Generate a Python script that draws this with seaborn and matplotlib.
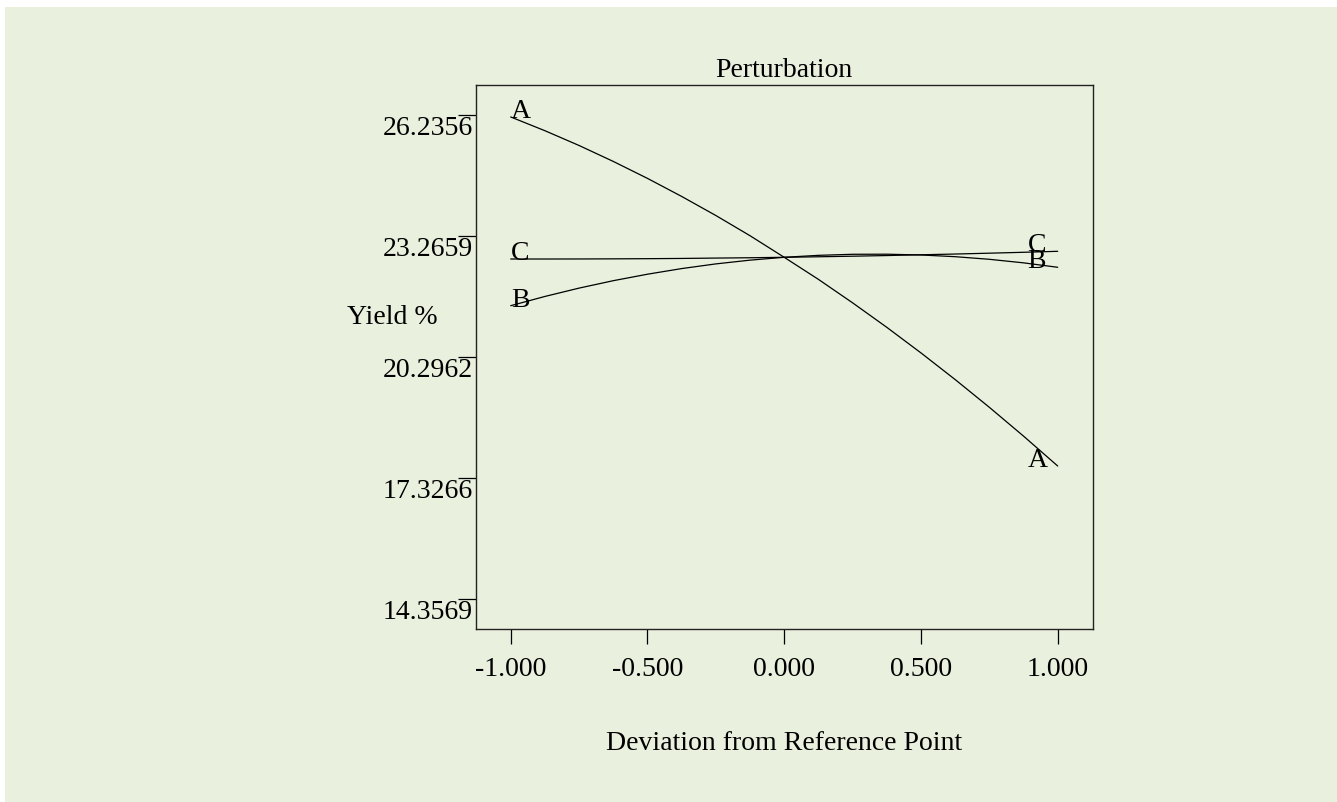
import numpy as np
import pandas as pd
import matplotlib
matplotlib.use("Agg")
import matplotlib.pyplot as plt
from matplotlib.patches import Rectangle
import seaborn as sns

# ---- data ----
deviation = [-1.0, -0.875, -0.75, -0.625, -0.5, -0.375, -0.25, -0.125, 0.0,
             0.125, 0.25, 0.375, 0.5, 0.625, 0.75, 0.875, 1.0]
yield_A = [26.187, 25.850, 25.487, 25.096, 24.680, 24.237, 23.769, 23.273, 22.743,
           22.202, 21.626, 21.025, 20.397, 19.743, 19.062, 18.355, 17.621]
yield_B = [21.555, 21.782, 21.987, 22.169, 22.328, 22.466, 22.581, 22.673, 22.743,
           22.791, 22.817, 22.819, 22.800, 22.758, 22.694, 22.607, 22.498]
yield_C = [22.701, 22.701, 22.702, 22.705, 22.709, 22.715, 22.724, 22.732, 22.743,
           22.756, 22.770, 22.786, 22.805, 22.823, 22.844, 22.866, 22.890]
factors = ["A", "B", "C"]
y_ticks = [14.3569, 17.3266, 20.2962, 23.2659, 26.2356]
y_tick_labels = ["14.3569", "17.3266", "20.2962", "23.2659", "26.2356"]
x_ticks = [-1.0, -0.5, 0.0, 0.5, 1.0]
x_tick_labels = ["-1.000", "-0.500", "0.000", "0.500", "1.000"]

n = len(deviation)
df = pd.DataFrame({
    "Deviation": deviation * 3,
    "Yield": yield_A + yield_B + yield_C,
    "Factor": ["A"] * n + ["B"] * n + ["C"] * n,
})

GREEN = "#e9f0dd"
sns.set_theme(style="ticks")
plt.rcParams["font.family"] = ["Liberation Serif", "DejaVu Serif"]
plt.rcParams["font.size"] = 20
plt.rcParams["text.color"] = "black"
plt.rcParams["axes.labelcolor"] = "black"
plt.rcParams["xtick.color"] = "black"
plt.rcParams["ytick.color"] = "black"

W, H = 1337, 803
fig = plt.figure(figsize=(W / 100, H / 100), dpi=100, facecolor="white")
fig.patches.append(Rectangle((5 / W, -0.05), 1.1, 1.05 - 8 / H, transform=fig.transFigure,
                             facecolor=GREEN, edgecolor="none", zorder=-10))

ax_l, ax_r, ax_t, ax_b = 475.7, 1092.7, 85.7, 630.0
ax = fig.add_axes([ax_l / W, 1 - ax_b / H, (ax_r - ax_l) / W, (ax_b - ax_t) / H])
ax.set_facecolor(GREEN)

sns.lineplot(data=df, x="Deviation", y="Yield", hue="Factor",
             palette={"A": "black", "B": "black", "C": "black"},
             legend=False, linewidth=0.9, ax=ax, estimator=None, sort=False)

series = {"A": yield_A, "B": yield_B, "C": yield_C}
for f in factors:
    vals = series[f]
    ax.text(deviation[0], vals[0], f, ha="left", va="baseline", fontsize=20, color="black")
    ax.text(0.89, vals[-1], f, ha="left", va="baseline", fontsize=20, color="black")

ax.set_xlim(-1.128, 1.128)
ax.set_ylim(13.6206, 26.979)
ax.set_xticks(x_ticks)
ax.set_xticklabels(x_tick_labels, fontsize=20, color="black")
ax.set_yticks(y_ticks)
ax.set_yticklabels(y_tick_labels, fontsize=20, color="black")
ax.tick_params(axis="x", direction="out", length=10.8, width=0.9, pad=8.5, colors="black")
ax.tick_params(axis="y", direction="out", length=13, width=0.9, pad=-10.8, colors="black")
for lbl in ax.get_yticklabels():
    lbl.set_va("top")
for sp in ax.spines.values():
    sp.set_visible(True)
    sp.set_color("#222222")
    sp.set_linewidth(1.0)
ax.set_xlabel("")
ax.set_ylabel("")
ax.set_title("Perturbation", fontsize=20, pad=6, color="black")

fig.text(346.5 / W, 1 - 317 / H, "Yield %", ha="left", va="center", fontsize=20, color="black")
fig.text(784 / W, 1 - 750 / H, "Deviation from Reference Point", ha="center",
         va="baseline", fontsize=20, color="black")

fig.savefig("out.png", dpi=100, facecolor="white")
